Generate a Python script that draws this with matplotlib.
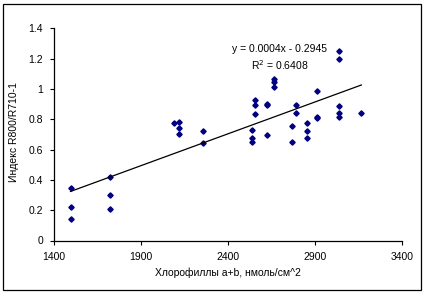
import numpy as np
import matplotlib
matplotlib.use("Agg")
import matplotlib.pyplot as plt
from matplotlib.patches import Rectangle

chlorophyll = [1495, 1495, 1495, 1724, 1724, 1724, 2092, 2121, 2121, 2121, 2257, 2257,
               2664, 2664, 2664, 2556, 2556, 2625, 2627, 2556, 2541, 2541, 2541, 2625,
               2794, 2794, 2913, 2913, 2771, 2857, 2857, 2857, 2771, 2913,
               3039, 3039, 3039, 3039, 3039, 3168]
index_vals = [0.344, 0.223, 0.142, 0.417, 0.298, 0.206, 0.773, 0.780, 0.740, 0.704, 0.722, 0.645,
              1.063, 1.046, 1.015, 0.927, 0.894, 0.900, 0.896, 0.834, 0.727, 0.674, 0.652, 0.696,
              0.892, 0.839, 0.817, 0.808, 0.755, 0.773, 0.720, 0.678, 0.648, 0.988,
              1.252, 1.195, 0.889, 0.839, 0.817, 0.841]
x_ticks = [1400, 1900, 2400, 2900, 3400]
y_ticks = [0, 0.2, 0.4, 0.6, 0.8, 1, 1.2, 1.4]
y_tick_labels = ["0", "0.2", "0.4", "0.6", "0.8", "1", "1.2", "1.4"]
eq_text = "y = 0.0004x - 0.2945"
r2_text = "R$^2$ = 0.6408"
x_label = "Хлорофиллы a+b, нмоль/см^2"
y_label = "Индекс R800/R710-1"

plt.rcParams['font.family'] = ['Liberation Sans', 'DejaVu Sans']

W, H = 427, 294
fig = plt.figure(figsize=(W / 100, H / 100), dpi=100)
ax = fig.add_axes([54 / W, 1 - 240.5 / H, (401.7 - 54) / W, (240.5 - 28.3) / H])

x = np.array(chlorophyll)
y = np.array(index_vals)
ax.plot(x, y, linestyle='none', marker='D', markersize=2.7, color='#000080')

coef = np.polyfit(x, y, 1)
xs = np.array([x.min(), x.max()])
ax.plot(xs, np.polyval(coef, xs), color='black', linewidth=0.9)

ax.set_xlim(1400, 3400)
ax.set_ylim(0, 1.4)
ax.set_xticks(x_ticks)
ax.set_yticks(y_ticks)
ax.set_yticklabels(y_tick_labels)
ax.tick_params(direction='out', length=3, width=0.8, labelsize=7.5, colors='black')
ax.tick_params(axis='x', pad=5)
ax.tick_params(axis='y', pad=5)
for s in ['top', 'right']:
    ax.spines[s].set_visible(False)
for s in ['left', 'bottom']:
    ax.spines[s].set_linewidth(0.9)

fig.text(14 / W, 1 - 132 / H, y_label, rotation=90, ha='center', va='center', fontsize=7.5)
fig.text(228 / W, 1 - 273 / H, x_label, ha='center', va='center', fontsize=7.5)
fig.text(280 / W, 1 - 49.5 / H, eq_text, ha='center', va='center', fontsize=7.5)
fig.text(280 / W, 1 - 65 / H, r2_text, ha='center', va='center', fontsize=7.5)

fig.patches.append(Rectangle((3 / W, 1 - 290 / H), (421 - 3) / W, (290 - 4) / H,
                             transform=fig.transFigure, fill=False, edgecolor='black',
                             linewidth=0.9))

fig.savefig("out.png", dpi=100)
